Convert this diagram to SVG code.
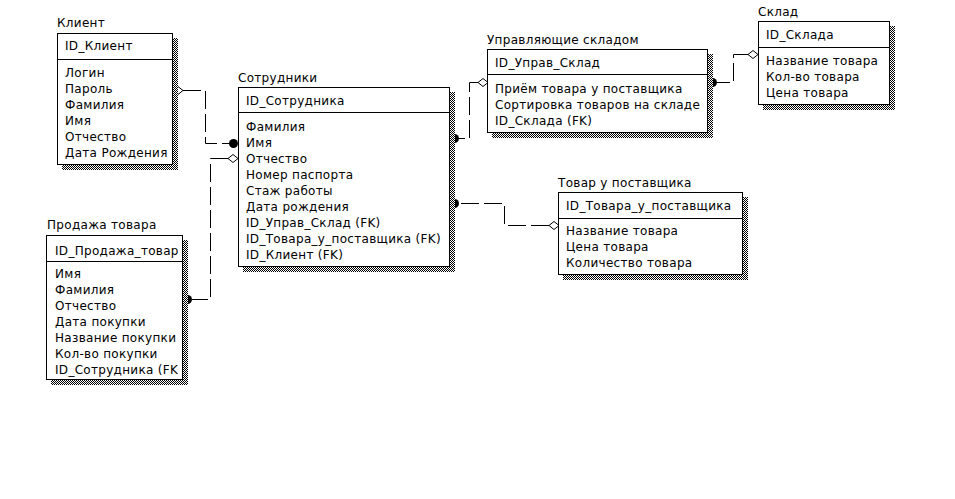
<svg xmlns="http://www.w3.org/2000/svg" width="955" height="499" viewBox="0 0 955 499">
<style>
text{font-family:"DejaVu Sans","Liberation Sans",sans-serif;font-size:12px;letter-spacing:0.3px;fill:#000}
.box{fill:#fff;stroke:#000;stroke-width:1}
.sh{fill:url(#hatch)}
.div{stroke:#000;stroke-width:1}
.ln{fill:none;stroke:#000;stroke-width:1;stroke-dasharray:18 5}
.dia{fill:#fff;stroke:#000;stroke-width:1}
.dot{fill:#000}
</style>
<defs>
<pattern id="hatch" width="2" height="2" patternUnits="userSpaceOnUse">
<rect width="2" height="2" fill="#fff"/>
<rect width="1" height="1" fill="#000"/>
<rect x="1" y="1" width="1" height="1" fill="#000"/>
</pattern>
<clipPath id="clipSale"><rect x="47" y="236" width="131" height="143"/></clipPath>
</defs>
<rect width="955" height="499" fill="#fff"/>

<g id="connectors">
<path class="ln" d="M183,90.5 H205.5 V143.5 H229"/>
<polygon class="dia" points="173,90.5 178,86.5 183,90.5 178,94.5"/>
<circle class="dot" cx="233.5" cy="143.5" r="4.5"/>

<path class="ln" d="M228,158.5 H210.5 V299.5 H192"/>
<polygon class="dia" points="238,158.5 233,154.5 228,158.5 233,162.5"/>
<circle class="dot" cx="187.5" cy="299.5" r="4.5"/>

<path class="ln" d="M478,82.5 H469.5 V138.5 H459"/>
<polygon class="dia" points="488,82.5 483,78.5 478,82.5 483,86.5"/>
<circle class="dot" cx="454.5" cy="138.5" r="4.5"/>

<path class="ln" d="M748,54.5 H733.5 V82.5 H717"/>
<polygon class="dia" points="758,54.5 753,50.5 748,54.5 753,58.5"/>
<circle class="dot" cx="712.5" cy="82.5" r="4.5"/>

<path class="ln" d="M549,225.5 H504.5 V203.5 H459"/>
<polygon class="dia" points="559,225.5 554,221.5 549,225.5 554,229.5"/>
<circle class="dot" cx="454.5" cy="203.5" r="4.5"/>
</g>

<g id="client">
<rect class="sh" x="62" y="38" width="116" height="132"/>
<rect class="box" x="57.5" y="33.5" width="115" height="131"/>
<line class="div" x1="57.5" y1="59.5" x2="172.5" y2="59.5"/>
<text x="57" y="27">Клиент</text>
<text x="65" y="50">ID_Клиент</text>
<text x="65" y="77">Логин</text>
<text x="65" y="93">Пароль</text>
<text x="65" y="109">Фамилия</text>
<text x="65" y="125">Имя</text>
<text x="65" y="141">Отчество</text>
<text x="65" y="157">Дата Рождения</text>
</g>

<g id="employees">
<rect class="sh" x="243" y="92" width="212" height="180"/>
<rect class="box" x="238.5" y="87.5" width="211" height="179"/>
<line class="div" x1="238.5" y1="112.5" x2="449.5" y2="112.5"/>
<text x="238" y="82">Сотрудники</text>
<text x="246" y="105">ID_Сотрудника</text>
<text x="246" y="131">Фамилия</text>
<text x="246" y="147">Имя</text>
<text x="246" y="163">Отчество</text>
<text x="246" y="179">Номер паспорта</text>
<text x="246" y="195">Стаж работы</text>
<text x="246" y="211">Дата рождения</text>
<text x="246" y="227">ID_Управ_Склад (FK)</text>
<text x="246" y="243">ID_Товара_у_поставщика (FK)</text>
<text x="246" y="259">ID_Клиент (FK)</text>
</g>

<g id="sale">
<rect class="sh" x="51" y="240" width="137" height="145"/>
<rect class="box" x="46.5" y="235.5" width="136" height="144"/>
<line class="div" x1="46.5" y1="261.5" x2="182.5" y2="261.5"/>
<text x="47" y="229">Продажа товара</text>
<g clip-path="url(#clipSale)">
<text x="55" y="255">ID_Продажа_товара</text>
<text x="55" y="278">Имя</text>
<text x="55" y="294">Фамилия</text>
<text x="55" y="310">Отчество</text>
<text x="55" y="326">Дата покупки</text>
<text x="55" y="342">Название покупки</text>
<text x="55" y="358">Кол-во покупки</text>
<text x="55" y="374">ID_Сотрудника (FK)</text>
</g>
</g>

<g id="managers">
<rect class="sh" x="492" y="54" width="221" height="84"/>
<rect class="box" x="487.5" y="49.5" width="220" height="83"/>
<line class="div" x1="487.5" y1="74.5" x2="707.5" y2="74.5"/>
<text x="487" y="44">Управляющие складом</text>
<text x="495" y="67">ID_Управ_Склад</text>
<text x="495" y="93">Приём товара у поставщика</text>
<text x="495" y="109">Сортировка товаров на складе</text>
<text x="495" y="125">ID_Склада (FK)</text>
</g>

<g id="warehouse">
<rect class="sh" x="763" y="26" width="132" height="84"/>
<rect class="box" x="758.5" y="21.5" width="131" height="83"/>
<line class="div" x1="758.5" y1="47.5" x2="889.5" y2="47.5"/>
<text x="758" y="16">Склад</text>
<text x="766" y="39">ID_Склада</text>
<text x="766" y="65">Название товара</text>
<text x="766" y="81">Кол-во товара</text>
<text x="766" y="97">Цена товара</text>
</g>

<g id="supplier">
<rect class="sh" x="563" y="197" width="185" height="83"/>
<rect class="box" x="558.5" y="192.5" width="184" height="82"/>
<line class="div" x1="558.5" y1="218.5" x2="742.5" y2="218.5"/>
<text x="558" y="187">Товар у поставщика</text>
<text x="566" y="210">ID_Товара_у_поставщика</text>
<text x="566" y="235">Название товара</text>
<text x="566" y="251">Цена товара</text>
<text x="566" y="267">Количество товара</text>
</g>
</svg>
